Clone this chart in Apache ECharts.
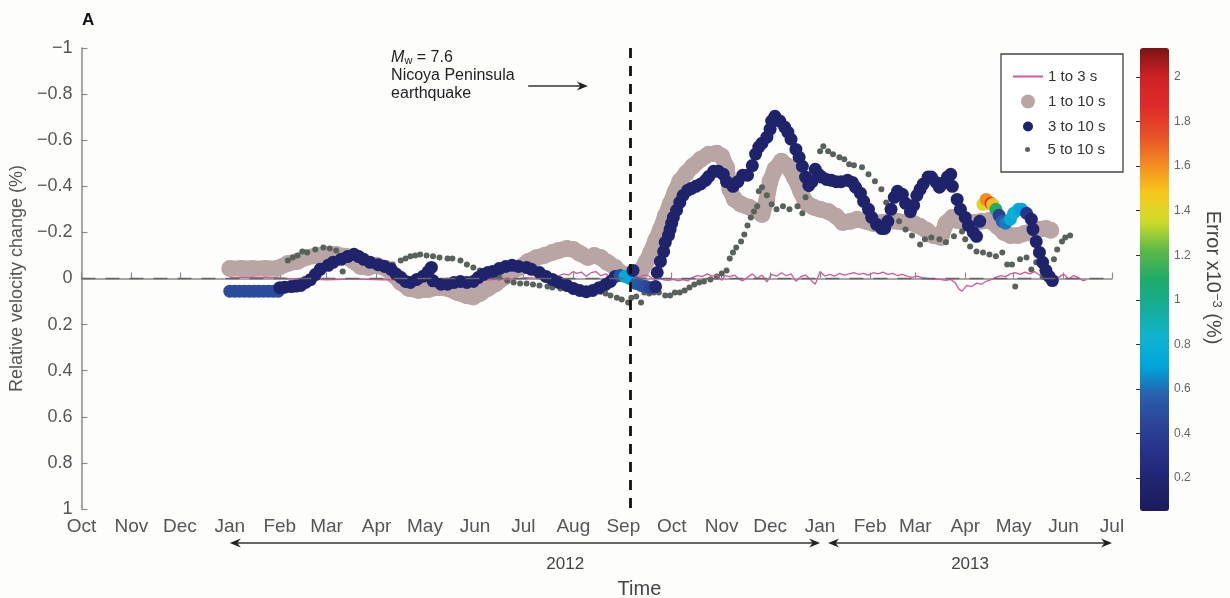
<!DOCTYPE html>
<html><head><meta charset="utf-8">
<script src="https://cdn.jsdelivr.net/npm/echarts@6/dist/echarts.min.js"></script>
<style>html,body{margin:0;padding:0;background:#fdfdfc}#c{width:1230px;height:598px}</style>
</head><body><div id="c"></div><script>
const monthNames = ['Jan','Feb','Mar','Apr','May','Jun','Jul','Aug','Sep','Oct','Nov','Dec'];
const seriesNames = ['1 to 3 s','1 to 10 s','5 to 10 s','3 to 10 s'];
const quakeDate = '2012-09-05';

// 1 to 3 s (pink line)
const pinkDates = ['2012-01-01','2012-01-06','2012-01-11','2012-01-16','2012-01-21','2012-01-26','2012-01-31','2012-02-05','2012-02-10','2012-02-15','2012-02-20','2012-02-25','2012-03-01','2012-03-06','2012-03-11','2012-03-16','2012-03-21','2012-03-26','2012-03-31','2012-04-05','2012-04-10','2012-04-15','2012-04-20','2012-04-25','2012-04-30','2012-05-05','2012-05-10','2012-05-15','2012-05-20','2012-05-25','2012-05-30','2012-06-04','2012-06-09','2012-06-14','2012-06-19','2012-06-24','2012-06-29','2012-07-04','2012-07-09','2012-07-14','2012-07-19','2012-07-23','2012-07-26','2012-07-29','2012-08-01','2012-08-03','2012-08-06','2012-08-09','2012-08-12','2012-08-15','2012-08-18','2012-08-21','2012-08-24','2012-08-27','2012-08-30','2012-09-02','2012-09-05','2012-09-08','2012-09-11','2012-09-14','2012-09-17','2012-09-20','2012-09-23','2012-09-26','2012-09-29','2012-10-02','2012-10-05','2012-10-08','2012-10-11','2012-10-14','2012-10-17','2012-10-20','2012-10-23','2012-10-26','2012-10-29','2012-11-01','2012-11-03','2012-11-06','2012-11-09','2012-11-12','2012-11-14','2012-11-17','2012-11-20','2012-11-23','2012-11-26','2012-11-29','2012-12-02','2012-12-05','2012-12-08','2012-12-11','2012-12-14','2012-12-17','2012-12-20','2012-12-23','2012-12-26','2012-12-29','2013-01-01','2013-01-04','2013-01-07','2013-01-10','2013-01-13','2013-01-16','2013-01-19','2013-01-22','2013-01-25','2013-01-28','2013-01-31','2013-02-03','2013-02-06','2013-02-09','2013-02-12','2013-02-15','2013-02-18','2013-02-21','2013-02-24','2013-02-27','2013-03-02','2013-03-05','2013-03-08','2013-03-11','2013-03-14','2013-03-17','2013-03-20','2013-03-23','2013-03-26','2013-03-28','2013-03-30','2013-04-02','2013-04-05','2013-04-08','2013-04-11','2013-04-14','2013-04-17','2013-04-20','2013-04-23','2013-04-26','2013-04-29','2013-05-02','2013-05-05','2013-05-08','2013-05-11','2013-05-14','2013-05-17','2013-05-20','2013-05-23','2013-05-26','2013-05-29','2013-06-01','2013-06-04','2013-06-07','2013-06-10','2013-06-13','2013-06-15'];
const pinkVals = [-0.005,-0.004,-0.006,-0.005,-0.004,-0.005,-0.003,0.000,0.002,0.004,0.005,0.004,0.006,0.005,0.004,0.002,0.003,0.004,0.005,0.006,0.005,0.007,0.008,0.006,0.004,0.006,0.008,0.007,0.005,0.008,0.010,0.008,0.006,0.004,0.002,0.003,0.000,-0.004,-0.002,-0.008,-0.004,-0.012,-0.020,-0.015,-0.030,-0.022,-0.028,-0.010,-0.025,-0.030,-0.012,-0.020,-0.008,-0.015,-0.005,-0.010,-0.008,-0.012,-0.006,-0.015,-0.010,0.004,-0.005,0.006,0.008,0.004,0.010,0.005,0.010,-0.005,-0.012,-0.008,-0.020,-0.010,-0.015,0.008,-0.012,-0.008,-0.015,0.004,0.010,-0.005,-0.020,0.000,-0.015,0.015,-0.018,-0.010,-0.025,-0.012,-0.020,0.012,-0.008,-0.015,0.005,0.025,-0.030,-0.010,-0.018,-0.010,-0.022,-0.015,-0.020,-0.025,-0.018,-0.022,-0.015,-0.025,-0.020,-0.028,-0.018,-0.022,-0.012,-0.018,-0.010,-0.005,-0.010,-0.004,0.000,0.004,0.002,0.005,0.008,0.004,0.020,0.045,0.055,0.030,0.035,0.020,0.025,0.012,0.005,-0.005,-0.012,-0.008,-0.020,-0.025,-0.018,-0.028,-0.020,-0.030,-0.015,-0.020,-0.008,-0.015,-0.005,-0.020,0.002,-0.012,-0.005,0.010,0.005];

// 1 to 10 s (large grey-pink circles)
const grayDates = ['2012-01-01','2012-01-08','2012-01-15','2012-01-23','2012-01-30','2012-02-06','2012-02-12','2012-02-17','2012-02-24','2012-03-01','2012-03-07','2012-03-13','2012-03-18','2012-03-22','2012-03-27','2012-04-01','2012-04-07','2012-04-12','2012-04-16','2012-04-21','2012-04-27','2012-05-03','2012-05-09','2012-05-15','2012-05-21','2012-05-27','2012-05-31','2012-06-04','2012-06-09','2012-06-14','2012-06-19','2012-06-24','2012-06-29','2012-07-04','2012-07-09','2012-07-14','2012-07-19','2012-07-23','2012-07-28','2012-08-01','2012-08-05','2012-08-10','2012-08-14','2012-08-18','2012-08-22','2012-08-27','2012-08-30','2012-09-04','2012-09-08','2012-09-12','2012-09-15','2012-09-18','2012-09-21','2012-09-24','2012-09-27','2012-09-30','2012-10-03','2012-10-06','2012-10-10','2012-10-14','2012-10-19','2012-10-24','2012-10-29','2012-11-01','2012-11-04','2012-11-06','2012-11-09','2012-11-13','2012-11-18','2012-11-22','2012-11-26','2012-11-29','2012-12-01','2012-12-04','2012-12-08','2012-12-12','2012-12-16','2012-12-20','2012-12-23','2012-12-28','2013-01-01','2013-01-06','2013-01-11','2013-01-15','2013-01-20','2013-01-24','2013-01-29','2013-02-03','2013-02-08','2013-02-13','2013-02-18','2013-02-23','2013-02-28','2013-03-04','2013-03-08','2013-03-12','2013-03-17','2013-03-20','2013-03-24','2013-03-27','2013-04-01','2013-04-06','2013-04-11','2013-04-16','2013-04-21','2013-04-25','2013-04-29','2013-05-04','2013-05-08','2013-05-12','2013-05-16','2013-05-21','2013-05-24'];
const grayVals = [-0.043,-0.043,-0.043,-0.043,-0.043,-0.065,-0.074,-0.090,-0.100,-0.104,-0.104,-0.096,-0.074,-0.052,-0.048,-0.057,-0.043,-0.013,0.017,0.043,0.052,0.048,0.039,0.043,0.061,0.075,0.080,0.065,0.043,0.022,-0.004,-0.030,-0.048,-0.074,-0.090,-0.100,-0.113,-0.122,-0.130,-0.126,-0.109,-0.091,-0.100,-0.091,-0.070,-0.048,-0.026,-0.013,-0.009,-0.035,-0.070,-0.113,-0.165,-0.213,-0.270,-0.322,-0.374,-0.422,-0.457,-0.487,-0.517,-0.539,-0.543,-0.530,-0.483,-0.387,-0.343,-0.322,-0.309,-0.296,-0.278,-0.343,-0.422,-0.474,-0.509,-0.487,-0.439,-0.378,-0.330,-0.309,-0.300,-0.291,-0.270,-0.243,-0.248,-0.257,-0.248,-0.239,-0.243,-0.248,-0.248,-0.243,-0.239,-0.226,-0.209,-0.187,-0.178,-0.239,-0.265,-0.252,-0.243,-0.243,-0.248,-0.252,-0.226,-0.200,-0.187,-0.187,-0.196,-0.204,-0.213,-0.217,-0.209];

// 5 to 10 s (small dark dots)
const dotDates = ['2012-02-06','2012-02-09','2012-02-12','2012-02-15','2012-02-18','2012-02-23','2012-02-28','2012-03-03','2012-03-07','2012-03-11','2012-04-11','2012-04-16','2012-04-19','2012-04-22','2012-04-25','2012-04-28','2012-05-02','2012-05-06','2012-05-10','2012-05-15','2012-05-18','2012-05-23','2012-05-27','2012-05-31','2012-06-04','2012-06-09','2012-06-12','2012-06-16','2012-06-21','2012-06-25','2012-06-29','2012-07-03','2012-07-07','2012-07-11','2012-07-16','2012-07-19','2012-07-24','2012-07-28','2012-08-01','2012-08-05','2012-08-10','2012-08-13','2012-08-18','2012-08-21','2012-08-24','2012-08-28','2012-08-31','2012-09-04','2012-09-06','2012-09-09','2012-09-12','2012-09-14','2012-09-17','2012-09-20','2012-09-23','2012-09-27','2012-09-30','2012-10-03','2012-10-06','2012-10-09','2012-10-12','2012-10-15','2012-10-18','2012-10-21','2012-10-25','2012-10-29','2012-11-01','2012-11-04','2012-11-06','2012-11-08','2012-11-10','2012-11-13','2012-11-15','2012-11-17','2012-11-19','2012-11-21','2012-11-23','2012-11-24','2012-11-26','2012-11-29','2012-12-02','2012-12-05','2012-12-09','2012-12-13','2012-12-18','2012-12-21','2012-12-23','2012-12-25','2012-12-28','2012-12-30','2013-01-01','2013-01-03','2013-01-06','2013-01-09','2013-01-13','2013-01-16','2013-01-19','2013-01-22','2013-01-27','2013-01-31','2013-02-04','2013-02-08','2013-02-11','2013-02-15','2013-02-19','2013-02-23','2013-02-27','2013-03-04','2013-03-07','2013-03-11','2013-03-16','2013-03-20','2013-03-25','2013-03-30','2013-04-01','2013-04-04','2013-04-08','2013-04-12','2013-04-16','2013-04-20','2013-04-24','2013-04-27','2013-04-30','2013-05-02','2013-05-05','2013-05-09','2013-05-12','2013-05-15','2013-05-19','2013-05-23','2013-05-26','2013-05-28','2013-05-31','2013-06-02','2013-06-05'];
const dotVals = [-0.078,-0.091,-0.100,-0.117,-0.113,-0.126,-0.135,-0.130,-0.122,-0.030,-0.061,-0.078,-0.087,-0.096,-0.100,-0.104,-0.100,-0.096,-0.091,-0.087,-0.087,-0.078,-0.061,-0.048,-0.035,-0.030,-0.017,-0.004,0.009,0.017,0.022,0.022,0.026,0.030,0.035,0.039,0.043,0.043,0.039,0.043,0.048,0.052,0.057,0.065,0.074,0.083,0.091,0.104,0.083,0.078,0.104,0.061,0.065,0.061,0.061,0.074,0.074,0.061,0.061,0.052,0.039,0.026,0.017,0.013,0.004,-0.009,-0.022,-0.035,-0.087,-0.113,-0.135,-0.161,-0.191,-0.230,-0.265,-0.291,-0.313,-0.378,-0.396,-0.361,-0.322,-0.300,-0.313,-0.300,-0.313,-0.283,-0.352,-0.387,-0.417,-0.443,-0.552,-0.574,-0.552,-0.539,-0.526,-0.517,-0.496,-0.491,-0.483,-0.452,-0.422,-0.387,-0.330,-0.291,-0.248,-0.213,-0.187,-0.148,-0.170,-0.178,-0.170,-0.157,-0.183,-0.204,-0.170,-0.139,-0.117,-0.113,-0.104,-0.096,-0.113,-0.061,-0.061,0.035,-0.083,-0.091,-0.039,-0.070,-0.009,-0.009,-0.083,-0.126,-0.161,-0.178,-0.187];

// 3 to 10 s (navy circles coloured by error x10^-3 %)
const navyDates = ['2012-01-01','2012-01-04','2012-01-07','2012-01-10','2012-01-13','2012-01-16','2012-01-19','2012-01-22','2012-01-25','2012-01-28','2012-01-31','2012-02-01','2012-02-04','2012-02-08','2012-02-11','2012-02-14','2012-02-17','2012-02-20','2012-02-23','2012-02-26','2012-03-02','2012-03-05','2012-03-10','2012-03-14','2012-03-18','2012-03-21','2012-03-24','2012-03-28','2012-04-02','2012-04-06','2012-04-10','2012-04-13','2012-04-16','2012-04-19','2012-04-22','2012-04-26','2012-04-30','2012-05-03','2012-05-05','2012-05-06','2012-05-11','2012-05-15','2012-05-19','2012-05-23','2012-05-27','2012-05-31','2012-06-03','2012-06-06','2012-06-09','2012-06-12','2012-06-16','2012-06-20','2012-06-24','2012-06-28','2012-07-03','2012-07-06','2012-07-11','2012-07-15','2012-07-19','2012-07-23','2012-07-28','2012-08-01','2012-08-05','2012-08-09','2012-08-13','2012-08-17','2012-08-21','2012-08-24','2012-08-27','2012-08-30','2012-09-02','2012-09-05','2012-09-07','2012-09-09','2012-09-12','2012-09-15','2012-09-18','2012-09-21','2012-09-22','2012-09-24','2012-09-26','2012-09-27','2012-09-29','2012-09-30','2012-10-01','2012-10-02','2012-10-04','2012-10-06','2012-10-08','2012-10-11','2012-10-13','2012-10-16','2012-10-19','2012-10-22','2012-10-24','2012-10-27','2012-10-30','2012-11-02','2012-11-04','2012-11-08','2012-11-11','2012-11-14','2012-11-17','2012-11-20','2012-11-22','2012-11-24','2012-11-26','2012-11-29','2012-12-01','2012-12-02','2012-12-04','2012-12-07','2012-12-10','2012-12-12','2012-12-14','2012-12-17','2012-12-19','2012-12-21','2012-12-23','2012-12-25','2012-12-27','2012-12-29','2012-12-31','2013-01-02','2013-01-05','2013-01-08','2013-01-11','2013-01-14','2013-01-18','2013-01-21','2013-01-23','2013-01-26','2013-01-28','2013-01-31','2013-02-02','2013-02-05','2013-02-08','2013-02-10','2013-02-12','2013-02-14','2013-02-16','2013-02-18','2013-02-21','2013-02-23','2013-02-26','2013-02-28','2013-03-02','2013-03-04','2013-03-06','2013-03-09','2013-03-11','2013-03-14','2013-03-16','2013-03-18','2013-03-21','2013-03-23','2013-03-24','2013-03-27','2013-03-29','2013-04-01','2013-04-03','2013-04-06','2013-04-08','2013-04-10','2013-04-12','2013-04-14','2013-04-17','2013-04-18','2013-04-20','2013-04-22','2013-04-24','2013-04-26','2013-04-29','2013-05-01','2013-05-04','2013-05-06','2013-05-09','2013-05-12','2013-05-13','2013-05-15','2013-05-17','2013-05-19','2013-05-21','2013-05-23','2013-05-25','2013-05-27'];
const navyVals = [0.055,0.055,0.055,0.055,0.055,0.055,0.055,0.055,0.055,0.055,0.055,0.040,0.038,0.035,0.033,0.030,0.017,0.005,-0.017,-0.040,-0.057,-0.070,-0.083,-0.095,-0.105,-0.095,-0.083,-0.070,-0.060,-0.052,-0.040,-0.020,-0.005,0.013,0.017,0.004,-0.010,-0.030,-0.048,0.010,0.025,0.025,0.017,0.013,0.017,0.013,-0.004,-0.017,-0.026,-0.030,-0.043,-0.052,-0.057,-0.052,-0.048,-0.040,-0.026,-0.009,0.004,0.017,0.030,0.043,0.052,0.057,0.052,0.040,0.026,0.013,-0.009,-0.013,-0.009,0.000,-0.035,0.022,0.030,0.035,0.040,0.035,-0.026,-0.074,-0.117,-0.157,-0.187,-0.213,-0.240,-0.265,-0.296,-0.330,-0.360,-0.383,-0.390,-0.400,-0.410,-0.426,-0.443,-0.465,-0.465,-0.452,-0.420,-0.400,-0.420,-0.448,-0.448,-0.490,-0.540,-0.570,-0.587,-0.613,-0.648,-0.683,-0.704,-0.683,-0.657,-0.635,-0.604,-0.560,-0.526,-0.487,-0.440,-0.404,-0.420,-0.474,-0.452,-0.440,-0.430,-0.426,-0.420,-0.420,-0.426,-0.417,-0.396,-0.370,-0.335,-0.300,-0.265,-0.235,-0.217,-0.217,-0.248,-0.300,-0.352,-0.378,-0.365,-0.326,-0.290,-0.317,-0.360,-0.387,-0.410,-0.440,-0.440,-0.417,-0.396,-0.413,-0.440,-0.452,-0.400,-0.343,-0.300,-0.265,-0.230,-0.200,-0.183,-0.248,-0.322,-0.343,-0.326,-0.322,-0.300,-0.274,-0.248,-0.240,-0.257,-0.283,-0.300,-0.300,-0.283,-0.257,-0.213,-0.160,-0.113,-0.070,-0.035,-0.009,0.009,0.022];
const navyErr = [0.48,0.48,0.48,0.48,0.48,0.48,0.48,0.48,0.48,0.48,0.48,0.15,0.15,0.15,0.15,0.15,0.15,0.15,0.15,0.15,0.15,0.15,0.15,0.15,0.15,0.15,0.15,0.15,0.15,0.15,0.15,0.15,0.15,0.15,0.15,0.15,0.15,0.15,0.15,0.15,0.15,0.15,0.15,0.15,0.15,0.15,0.15,0.15,0.15,0.15,0.15,0.15,0.15,0.15,0.15,0.15,0.15,0.15,0.15,0.15,0.15,0.15,0.15,0.15,0.15,0.15,0.15,0.15,0.2,0.5,0.75,0.72,0.2,0.55,0.52,0.48,0.42,0.2,0.15,0.15,0.15,0.15,0.15,0.15,0.15,0.15,0.15,0.15,0.15,0.15,0.15,0.15,0.15,0.15,0.15,0.15,0.15,0.15,0.15,0.15,0.15,0.15,0.15,0.15,0.15,0.15,0.15,0.15,0.15,0.15,0.15,0.15,0.15,0.15,0.15,0.15,0.15,0.15,0.15,0.15,0.15,0.15,0.15,0.15,0.15,0.15,0.15,0.15,0.15,0.15,0.15,0.15,0.15,0.15,0.15,0.15,0.15,0.15,0.15,0.15,0.15,0.15,0.15,0.15,0.15,0.15,0.15,0.15,0.15,0.15,0.15,0.15,0.15,0.15,0.15,0.15,0.15,0.15,0.15,0.15,0.15,0.15,0.15,0.2,1.4,1.6,1.85,1.5,1.1,0.4,0.55,0.62,0.75,0.8,0.76,0.7,0.35,0.15,0.15,0.15,0.15,0.15,0.15,0.15,0.15];

// colour bar (error x10^-3 %)
const errMin = 0.05, errMax = 2.13;
const errColors = ['#1b1b5c','#20256f','#27318a','#2b4497','#2a5fac','#00a5dd','#0fb3cf','#16ad98','#1eab6a','#5bb848','#cfdc2a','#f7c81c','#f38a21','#e84f27','#df2a2a','#cf2226','#7d1313'];

const ts = s => { const p = s.split('-'); return new Date(+p[0], +p[1] - 1, +p[2]).getTime(); };
const zip = (d, v, e) => d.map((x, i) => e ? [ts(x), v[i], e[i]] : [ts(x), v[i]]);
const FONT = 'Liberation Sans, Arial, Helvetica, sans-serif';
const legendText = { fontSize: 15, color: '#333' };

const chart = echarts.init(document.getElementById('c'));
const option = {
  backgroundColor: '#fdfdfc',
  animation: false,
  textStyle: { fontFamily: FONT },
  grid: [
    { left: 80, right: 118, top: 48, bottom: 89 },
    { left: 1140, width: 29, top: 77, bottom: 120 }
  ],
  xAxis: [
    { type: 'time', gridIndex: 0, min: ts('2011-10-01'), max: ts('2013-07-01'), splitNumber: 21,
      minInterval: 28 * 864e5, maxInterval: 31 * 864e5,
      axisLine: { lineStyle: { color: '#8a8a8a', width: 1.5 } },
      axisTick: { inside: true, length: 6, lineStyle: { color: '#8a8a8a', width: 1.2 } },
      axisLabel: { fontSize: 19, color: '#555', margin: 8, hideOverlap: false, showMinLabel: true, showMaxLabel: true,
        formatter: v => monthNames[new Date(v).getMonth()] },
      splitLine: { show: false } },
    { type: 'value', gridIndex: 1, show: false, min: 0, max: 1 }
  ],
  yAxis: [
    { type: 'value', gridIndex: 0, inverse: true, min: -1, max: 1, interval: 0.2,
      name: 'Relative velocity change (%)', nameLocation: 'middle', nameGap: 42,
      nameTextStyle: { fontSize: 18, color: '#555' },
      axisLine: { show: true, lineStyle: { color: '#8a8a8a', width: 1.5 } },
      axisTick: { show: true, inside: true, length: 6, lineStyle: { color: '#8a8a8a', width: 1.2 } },
      axisLabel: { fontSize: 18, color: '#555', margin: 9,
        formatter: v => { const r = Math.round(v * 10) / 10; if (r === 0) return '0'; return (r < 0 ? '\u2212' : '') + String(Math.abs(r)); } },
      splitLine: { show: false } },
    { type: 'value', gridIndex: 1, position: 'right', min: 0.2, max: 2, interval: 0.2,
      name: 'Error x10{sup|\u22123} (%)', nameLocation: 'middle', nameRotate: -90, nameGap: 34,
      nameTextStyle: { fontSize: 20, color: '#444', rich: { sup: { fontSize: 13, color: '#444', verticalAlign: 'top', lineHeight: 8 } } },
      axisLine: { show: false },
      axisTick: { show: true, inside: true, length: 4, lineStyle: { color: '#333', width: 1 } },
      axisLabel: { fontSize: 12, color: '#666', margin: 5, formatter: v => String(Math.round(v * 10) / 10) },
      splitLine: { show: false } }
  ],
  visualMap: {
    type: 'continuous', min: errMin, max: errMax, dimension: 2, seriesIndex: 3,
    orient: 'vertical', left: 1140, top: 48, itemWidth: 29, itemHeight: 463,
    calculable: false, padding: 0, hoverLink: false, realtime: false,
    inRange: { color: errColors, opacity: 1 }
  },
  legend: [
    { data: [{ name: seriesNames[0], icon: 'rect', itemStyle: { color: '#d4579b' } }], left: 1013, top: 69, orient: 'vertical', padding: 0, itemWidth: 30, itemHeight: 2, selectedMode: false, textStyle: legendText },
    { data: [{ name: seriesNames[1], icon: 'circle' }], left: 1021, top: 94, orient: 'vertical', padding: 0, itemWidth: 30, itemHeight: 14, selectedMode: false, textStyle: legendText },
    { data: [{ name: seriesNames[3], icon: 'circle', itemStyle: { color: '#1d2370' } }], left: 1023, top: 119, orient: 'vertical', padding: 0, itemWidth: 30, itemHeight: 10, selectedMode: false, textStyle: legendText },
    { data: [{ name: seriesNames[2], icon: 'circle' }], left: 1025, top: 142, orient: 'vertical', padding: 0, itemWidth: 30, itemHeight: 5, selectedMode: false, textStyle: legendText }
  ],
  series: [
    { name: seriesNames[0], type: 'line', xAxisIndex: 0, yAxisIndex: 0, z: 3, symbol: 'none',
      data: zip(pinkDates, pinkVals), color: '#d4579b', lineStyle: { color: '#d4579b', width: 1.3 },
      markLine: { silent: true, symbol: ['none', 'none'], label: { show: false },
        data: [{ yAxis: 0, lineStyle: { color: '#666', type: [14, 10], width: 1.3 } }] } },
    { name: seriesNames[1], type: 'line', xAxisIndex: 0, yAxisIndex: 0, z: 1, symbol: 'circle', symbolSize: 17, showSymbol: true,
      data: zip(grayDates, grayVals), color: '#b8a5a4', itemStyle: { color: '#b8a5a4', opacity: 1 },
      lineStyle: { color: '#b8a5a4', width: 16, cap: 'round', join: 'round' } },
    { name: seriesNames[2], type: 'scatter', xAxisIndex: 0, yAxisIndex: 0, z: 2, symbolSize: 6,
      data: zip(dotDates, dotVals), itemStyle: { color: '#59615b', opacity: 1 } },
    { name: seriesNames[3], type: 'scatter', xAxisIndex: 0, yAxisIndex: 0, z: 4, symbolSize: 13,
      data: zip(navyDates, navyVals, navyErr), itemStyle: { color: '#1d2370', opacity: 1 },
      markLine: { silent: true, symbol: ['none', 'none'], label: { show: false },
        data: [{ xAxis: ts(quakeDate), lineStyle: { color: '#111', type: [10, 8], width: 2.8 } }] } }
  ]
};
chart.setOption(option);

// annotations positioned through the axes
const px = (d, v) => chart.convertToPixel({ gridIndex: 0 }, [ts(d), v]);
const xOf = d => px(d, 0)[0];
const head = (x, y, dir) => ({ type: 'polygon', z: 10, shape: { points: [[x, y], [x - dir * 11, y - 4.5], [x - dir * 7.5, y], [x - dir * 11, y + 4.5]] }, style: { fill: '#222' } });
const hline = (x1, x2, y) => ({ type: 'line', z: 10, shape: { x1: x1, y1: y, x2: x2, y2: y }, style: { stroke: '#333', lineWidth: 1.6 } });

const noteTL = px('2012-04-10', -0.996);
const noteArrowA = px('2012-07-04', -0.835);
const noteArrowB = px('2012-08-10', -0.835);
const yArrow = 543;
const a12L = xOf('2012-01-01'), a12R = xOf('2013-01-01');
const a13L = xOf('2013-01-01') + 8, a13R = xOf('2013-07-01');

chart.setOption({
  graphic: [
    { type: 'text', x: 82, y: 12, z: 10, style: { text: 'A', font: 'bold 17px ' + FONT, fill: '#111' } },
    { type: 'rect', z: 3, shape: { x: 1001, y: 54, width: 122, height: 118 }, style: { fill: '#ffffff', stroke: '#444', lineWidth: 1.3 } },
    { type: 'text', x: noteTL[0], y: noteTL[1], z: 10, style: {
        text: '{i|M}{sub|w}{n| = 7.6}\n{n|Nicoya Peninsula}\n{n|earthquake}',
        fill: '#222', font: '16px ' + FONT,
        rich: { i: { fontSize: 16, fontStyle: 'italic', lineHeight: 18, fontFamily: FONT, color: '#222' },
                sub: { fontSize: 11, verticalAlign: 'bottom', lineHeight: 8, fontFamily: FONT, color: '#222' },
                n: { fontSize: 16, lineHeight: 18, fontFamily: FONT, color: '#222' } } } },
    hline(noteArrowA[0], noteArrowB[0] - 4, noteArrowA[1]), head(noteArrowB[0], noteArrowA[1], 1),
    hline(a12L + 4, a12R - 4, yArrow), head(a12L, yArrow, -1), head(a12R, yArrow, 1),
    hline(a13L + 4, a13R - 4, yArrow), head(a13L, yArrow, -1), head(a13R, yArrow, 1),
    { type: 'text', x: xOf('2012-07-27'), y: 564, z: 10, style: { text: '2012', font: '17px ' + FONT, fill: '#444', align: 'center', verticalAlign: 'middle', textAlign: 'center', textVerticalAlign: 'middle' } },
    { type: 'text', x: (a13L + a13R) / 2, y: 564, z: 10, style: { text: '2013', font: '17px ' + FONT, fill: '#444', align: 'center', verticalAlign: 'middle', textAlign: 'center', textVerticalAlign: 'middle' } },
    { type: 'text', x: xOf('2012-09-11'), y: 589, z: 10, style: { text: 'Time', font: '20px ' + FONT, fill: '#444', align: 'center', verticalAlign: 'middle', textAlign: 'center', textVerticalAlign: 'middle' } }
  ]
});
</script></body></html>
